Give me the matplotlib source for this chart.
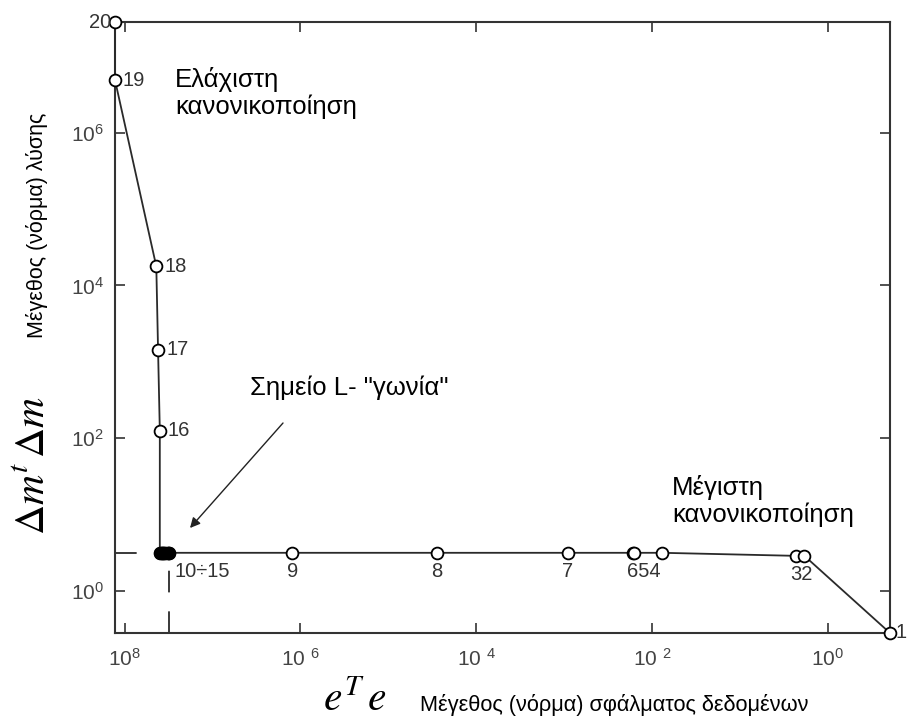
import numpy as np
import matplotlib
matplotlib.use("Agg")
import matplotlib.pyplot as plt
from matplotlib.ticker import FixedLocator, FixedFormatter, NullLocator

plt.rcParams['font.family'] = ['Liberation Sans', 'DejaVu Sans']
plt.rcParams['mathtext.fontset'] = 'custom'
plt.rcParams['mathtext.rm'] = 'Liberation Sans'
plt.rcParams['mathtext.it'] = 'Liberation Sans:italic'

# ---- data (log10 values) ----
point_names = ['20', '19', '18', '17', '16', '15', '14', '13', '12', '11', '10',
               '9', '8', '7', '6', '5', '4', '3', '2', '1']
log_err = [8.11, 8.11, 7.64, 7.62, 7.60, 7.60, 7.58, 7.56, 7.54, 7.51, 7.49,
           6.09, 4.45, 2.96, 2.22, 2.20, 1.88, 0.355, 0.264, -0.71]
log_norm = [7.45, 6.69, 4.25, 3.16, 2.10, 0.50, 0.50, 0.50, 0.50, 0.50, 0.50,
            0.50, 0.50, 0.50, 0.50, 0.50, 0.50, 0.46, 0.46, -0.55]
corner_err = 10 ** 7.49
corner_norm = 10 ** 0.50

x_ticks = [1e8, 1e6, 1e4, 1e2, 1e0]
x_ticklabels = [r'$\mathregular{10^{8}}$', r'$\mathregular{10\ ^{6}}$',
                r'$\mathregular{10\ ^{4}}$', r'$\mathregular{10\ ^{2}}$',
                r'$\mathregular{10^{0}}$']
y_ticks = [1e0, 1e2, 1e4, 1e6]
y_ticklabels = [r'$\mathregular{10^{0}}$', r'$\mathregular{10^{2}}$',
                r'$\mathregular{10^{4}}$', r'$\mathregular{10^{6}}$']

x_lim = (10 ** 8.11, 10 ** -0.71)
y_lim = (10 ** -0.55, 10 ** 7.45)

ex = np.power(10.0, log_err)
ny = np.power(10.0, log_norm)

W, H = 907, 726
fig = plt.figure(figsize=(W / 100, H / 100), dpi=100)
ax = fig.add_axes([115 / W, 1 - 633 / H, 775 / W, 611 / H])
ax.set_xscale('log')
ax.set_yscale('log')
ax.set_xlim(*x_lim)
ax.set_ylim(*y_lim)

dark = '#2a2a2a'
ax.plot(ex, ny, color=dark, lw=1.3, marker='o', ms=8.5, mfc='white',
        mec='black', mew=1.3, clip_on=False, zorder=3)
# cluster 10-15 rendered dark
ax.plot(ex[5:11], ny[5:11], ls='none', marker='o', ms=8.5, mfc='black',
        mec='black', clip_on=False, zorder=4)

# L-corner dashed guides (drawn from the axes towards the corner)
ax.plot([corner_err, corner_err], [y_lim[0], corner_norm], color=dark, lw=1.3,
        dashes=(12, 10.5), zorder=2)
ax.plot([x_lim[0], corner_err], [corner_norm, corner_norm], color=dark, lw=1.3,
        dashes=(12, 10.5), zorder=2)

for s in ax.spines.values():
    s.set_color('#333333')
    s.set_linewidth(1.5)

ax.xaxis.set_major_locator(FixedLocator(x_ticks))
ax.xaxis.set_major_formatter(FixedFormatter(x_ticklabels))
ax.yaxis.set_major_locator(FixedLocator(y_ticks))
ax.yaxis.set_major_formatter(FixedFormatter(y_ticklabels))
ax.xaxis.set_minor_locator(NullLocator())
ax.yaxis.set_minor_locator(NullLocator())
ax.tick_params(which='major', direction='in', length=7, width=1.2,
               colors='#333333', labelcolor='#444444', labelsize=15,
               top=True, right=True)
ax.tick_params(axis='x', pad=11)
ax.tick_params(axis='y', pad=8)

# point labels: (name, dx px, dy px, ha)
lab_style = dict(fontsize=14.5, color='#333333', va='center',
                 textcoords='offset points', annotation_clip=False)
px = 0.72
label_layout = [('20', -4, 0, 'right'), ('19', 8, 0, 'left'),
                ('18', 8, 0, 'left'), ('17', 8, 0, 'left'), ('16', 8, 0, 'left'),
                ('10', 5, -19, 'left'), ('9', 0, -19, 'center'),
                ('8', 0, -19, 'center'), ('7', 0, -19, 'center'),
                ('6', -6, -19, 'left'), ('3', -6, -19, 'left'), ('1', 6, 0, 'left')]
label_text = {'10': '10÷15', '6': '654', '3': '32'}
for name, dx, dy, ha in label_layout:
    i = point_names.index(name)
    ax.annotate(label_text.get(name, name), (ex[i], ny[i]),
                xytext=(dx * px, dy * px), ha=ha, **lab_style)

# annotations
txt = dict(fontsize=18.5, color='black', va='center', ha='left')
fig.text(175 / W, 1 - 79 / H, 'Ελάχιστη', **txt)
fig.text(175 / W, 1 - 107 / H, 'κανονικοποίηση', **txt)
fig.text(250 / W, 1 - 388 / H, 'Σημείο L- "γωνία"', **txt)
fig.text(672 / W, 1 - 487 / H, 'Μέγιστη', **txt)
fig.text(672 / W, 1 - 515 / H, 'κανονικοποίηση', **txt)

fig.add_artist(matplotlib.patches.FancyArrowPatch(
    (283 / W, 1 - 423 / H), (190 / W, 1 - 528 / H), transform=fig.transFigure,
    arrowstyle='-|>,head_length=6,head_width=3', color='#222222', lw=1.0,
    shrinkA=0, shrinkB=0))

# axis titles
fig.text(37 / W, 1 - 225 / H, 'Μέγεθος (νόρμα) λύσης', rotation=90,
         fontsize=15.5, ha='center', va='center')
fig.text(33 / W, 1 - 465 / H, r'$\Delta m^{t}\,\Delta m$', rotation=90,
         fontsize=30, ha='center', va='center', math_fontfamily='stix')
fig.text(355 / W, 1 - 700 / H, r'$e^{T}\,e$', fontsize=30, ha='center',
         va='center', math_fontfamily='stix')
fig.text(420 / W, 1 - 705 / H, 'Μέγεθος (νόρμα) σφάλματος δεδομένων',
         fontsize=15.7, ha='left', va='center')

fig.savefig('out.png', dpi=100)
